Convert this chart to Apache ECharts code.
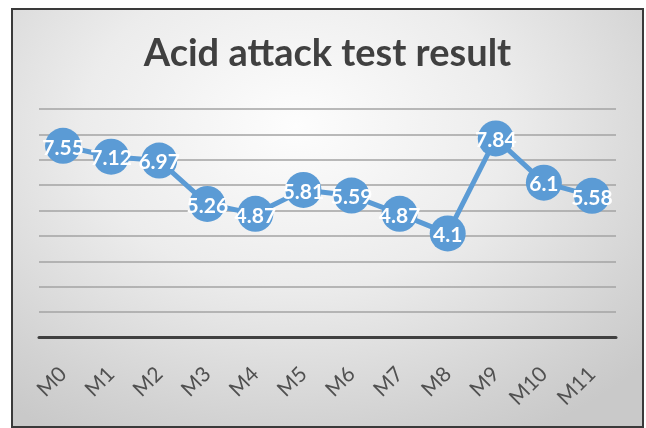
<!DOCTYPE html>
<html>
<head>
<meta charset="utf-8">
<script src="https://cdn.jsdelivr.net/npm/echarts@6/dist/echarts.min.js"></script>
<style>
html,body{margin:0;padding:0;background:#fff;width:646px;height:428px;overflow:hidden;}
#frame{position:absolute;left:11px;top:8px;width:633px;height:420px;box-sizing:border-box;border:2px solid #3a3a3a;
background:radial-gradient(ellipse 75% 85% at 45% 28%, #fdfdfd 0%, #ececec 45%, #d2d2d2 85%, #c9c9c9 100%);}
#chart{position:absolute;left:0;top:0;width:629px;height:416px;}
</style>
</head>
<body>
<div id="frame"><div id="chart"></div></div>
<script>
const titleText = "Acid attack test result";
const categories = ["M0","M1","M2","M3","M4","M5","M6","M7","M8","M9","M10","M11"];
const values = [7.55, 7.12, 6.97, 5.26, 4.87, 5.81, 5.59, 4.87, 4.1, 7.84, 6.1, 5.58];
const yMin = 0, yMax = 9, yStep = 1;

const chart = echarts.init(document.getElementById('chart'), null, {renderer:'canvas'});
chart.setOption({
  backgroundColor: 'transparent',
  animation: false,
  title: {
    text: titleText,
    left: 'center',
    top: 20,
    textStyle: {fontFamily: 'Lato', fontWeight: 'bold', fontSize: 38, color: '#404040'}
  },
  grid: {left: 26, right: 26, top: 99, bottom: 88.5, containLabel: false},
  xAxis: {
    type: 'category',
    data: categories,
    boundaryGap: true,
    axisLine: {show: true, lineStyle: {color: '#404040', width: 3}},
    axisTick: {show: false},
    axisLabel: {rotate: 45, margin: 33, fontFamily: 'Lato', fontSize: 21, color: '#505050', interval: 0}
  },
  yAxis: {
    type: 'value',
    min: yMin, max: yMax, interval: yStep,
    axisLine: {show: false},
    axisTick: {show: false},
    axisLabel: {show: false},
    splitLine: {show: true, lineStyle: {color: '#a3a3a3', width: 1.5}}
  },
  series: [{
    type: 'line',
    data: values,
    symbol: 'circle',
    symbolSize: 36,
    itemStyle: {color: '#5B9BD5'},
    lineStyle: {color: '#5B9BD5', width: 5},
    label: {show: true, position: 'inside', color: '#ffffff', fontFamily: 'Lato', fontWeight: 'bold', fontSize: 21, offset: [0, 2]},
    z: 3
  }]
});
</script>
</body>
</html>
